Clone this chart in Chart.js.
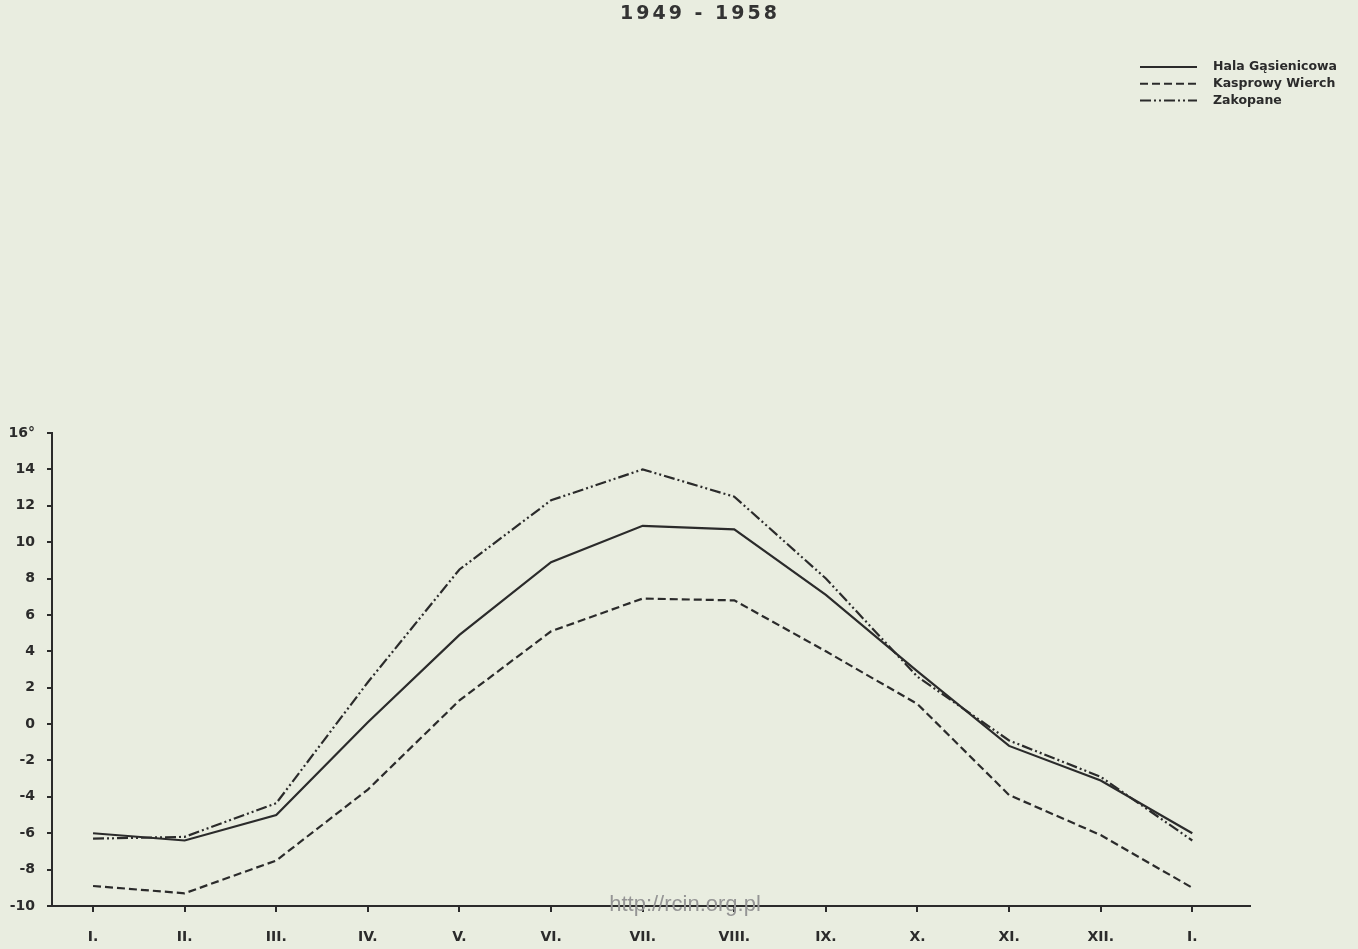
<!DOCTYPE html>
<html>
<head>
<meta charset="utf-8">
<script src="https://cdn.jsdelivr.net/npm/chart.js@4/dist/chart.umd.min.js"></script>
<style>
    html, body { margin: 0; padding: 0; background: #e9ede0; }
    #wrap { width: 1358px; height: 949px; }
</style>
</head>
<body>
<div id="wrap"><canvas id="chart" width="1358" height="949"></canvas></div>
<script>
// dane: średnie miesięczne temperatury 1949 - 1958
const months = ['I.', 'II.', 'III.', 'IV.', 'V.', 'VI.', 'VII.', 'VIII.', 'IX.', 'X.', 'XI.', 'XII.', 'I.'];
const halaGasienicowa = [-6.0, -6.4, -5.0, 0.1, 4.9, 8.9, 10.9, 10.7, 7.1, 2.9, -1.2, -3.1, -6.0];
const kasprowyWierch = [-8.9, -9.3, -7.5, -3.6, 1.3, 5.1, 6.9, 6.8, 4.0, 1.1, -3.9, -6.1, -9.0];
const zakopane = [-6.3, -6.2, -4.35, 2.3, 8.5, 12.3, 14.0, 12.5, 8.0, 2.6, -0.9, -2.9, -6.4];
const yTicks = [16, 14, 12, 10, 8, 6, 4, 2, 0, -2, -4, -6, -8, -10];

const ink = '#2b2b2b';
const font = 'DejaVu Sans';

function toPoints(values) {
    return values.map((v, i) => ({ x: i, y: v }));
}

// tytuł, legenda i znak wodny
const extras = {
    id: 'extras',
    afterDraw(chart) {
        const ctx = chart.ctx;
        ctx.save();
        // tytuł
        ctx.fillStyle = '#333';
        ctx.font = 'bold 19px ' + font;
        ctx.textAlign = 'center';
        ctx.textBaseline = 'middle';
        ctx.letterSpacing = '3px';
        ctx.fillText('1949 - 1958', 700, 14);
        ctx.letterSpacing = '0px';

        // legenda
        ctx.textAlign = 'left';
        ctx.font = 'bold 12.5px ' + font;
        chart.data.datasets.forEach((ds, i) => {
            const y = 67 + i * 16.8;
            ctx.strokeStyle = ink;
            ctx.lineWidth = 2;
            ctx.setLineDash(ds.borderDash || []);
            ctx.beginPath();
            ctx.moveTo(1140, y);
            ctx.lineTo(1197, y);
            ctx.stroke();
            ctx.setLineDash([]);
            ctx.fillStyle = ink;
            ctx.fillText(ds.label, 1213, y);
        });

        // znak wodny
        ctx.fillStyle = '#959595';
        ctx.font = '22px "Liberation Sans"';
        ctx.textAlign = 'center';
        ctx.fillText('http://rcin.org.pl', 685, 905);
        ctx.restore();
    }
};

new Chart(document.getElementById('chart'), {
    type: 'line',
    data: {
        datasets: [{
            label: 'Hala Gąsienicowa',
            data: toPoints(halaGasienicowa),
            borderColor: ink,
            borderWidth: 2.2,
            borderDash: []
        }, {
            label: 'Kasprowy Wierch',
            data: toPoints(kasprowyWierch),
            borderColor: ink,
            borderWidth: 2.2,
            borderDash: [8, 4]
        }, {
            label: 'Zakopane',
            data: toPoints(zakopane),
            borderColor: ink,
            borderWidth: 2.2,
            borderDash: [11, 3, 2, 3, 2, 3]
        }]
    },
    options: {
        responsive: false,
        animation: false,
        layout: { padding: { top: 433, right: 108, left: 0, bottom: 0 } },
        elements: {
            point: { radius: 0 },
            line: { tension: 0 }
        },
        plugins: {
            legend: { display: false },
            tooltip: { enabled: false }
        },
        scales: {
            x: {
                type: 'linear',
                min: -0.448,
                max: 12.63,
                afterBuildTicks: (scale) => {
                    scale.ticks = months.map((m, i) => ({ value: i }));
                },
                afterFit: (scale) => { scale.height = 43; },
                grid: { drawOnChartArea: false, tickLength: 6, color: ink, lineWidth: 2 },
                border: { display: true, color: ink, width: 2 },
                ticks: {
                    autoSkip: false,
                    maxRotation: 0,
                    padding: 17,
                    color: ink,
                    font: { family: font, size: 14, weight: 'bold' },
                    callback: (v) => months[v]
                }
            },
            y: {
                min: -10,
                max: 16,
                afterBuildTicks: (scale) => {
                    scale.ticks = yTicks.map(v => ({ value: v }));
                },
                afterFit: (scale) => { scale.width = 52; },
                grid: { drawOnChartArea: false, tickLength: 5, color: ink, lineWidth: 2 },
                border: { display: true, color: ink, width: 2 },
                ticks: {
                    padding: 12,
                    color: ink,
                    font: { family: font, size: 14, weight: 'bold' },
                    callback: (v) => v === 16 ? '16°' : String(v)
                }
            }
        }
    },
    plugins: [extras]
});
</script>
</body>
</html>
